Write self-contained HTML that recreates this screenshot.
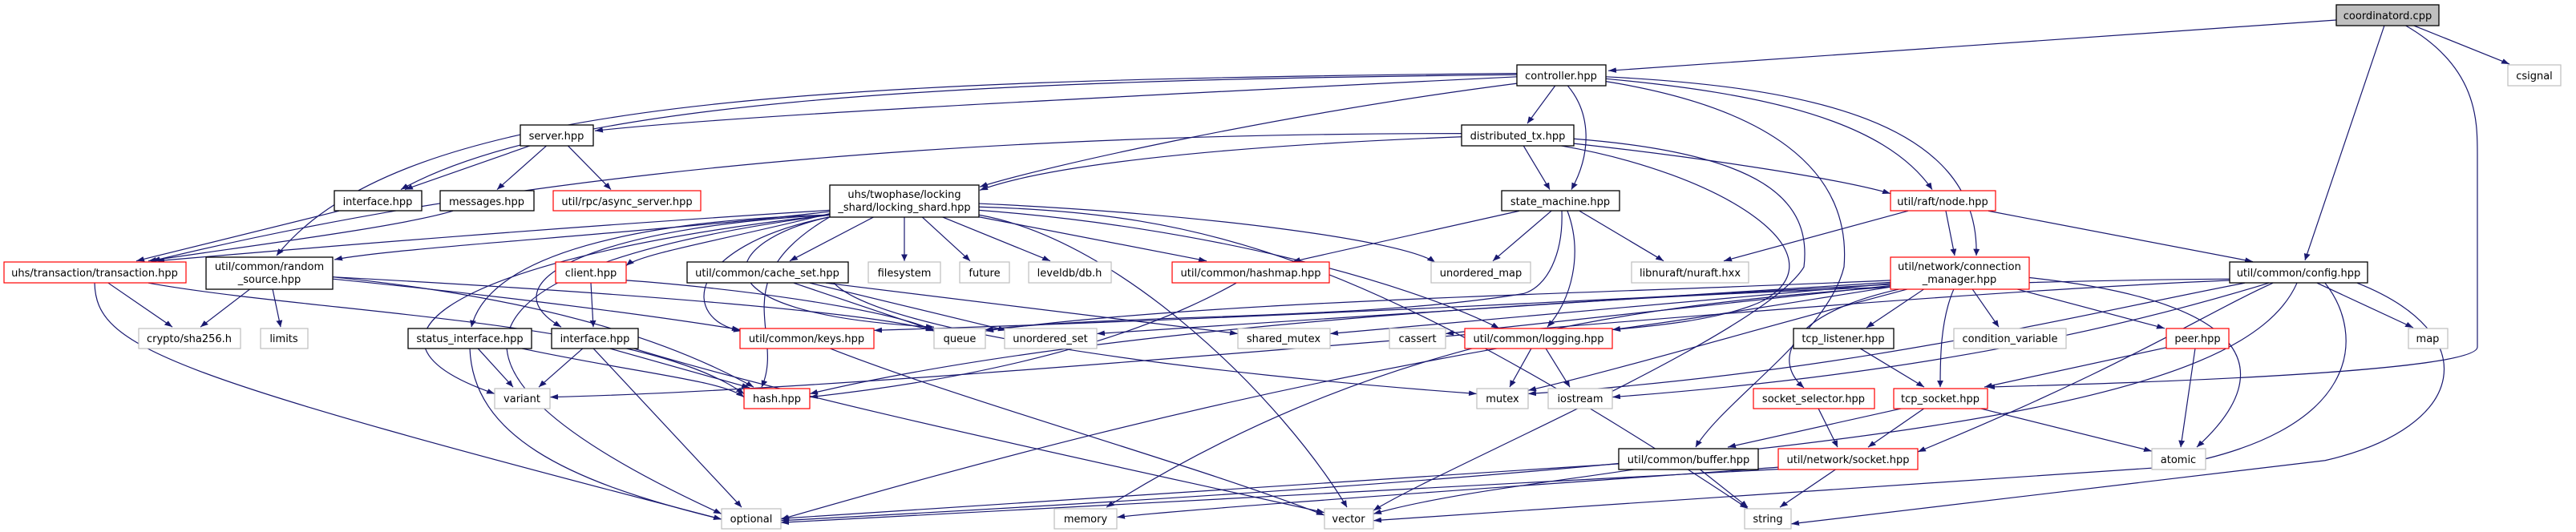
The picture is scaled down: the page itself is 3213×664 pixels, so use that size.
<!DOCTYPE html>
<html><head><meta charset="utf-8"><style>
html,body{margin:0;padding:0;background:#fff;overflow:hidden;}
svg{display:block;}
text{font-family:"DejaVu Sans","Liberation Sans",sans-serif;font-size:13px;fill:#000;text-anchor:middle;}
.e{fill:none;stroke:#191970;stroke-width:1.2;marker-end:url(#a);vector-effect:non-scaling-stroke;}
.b{fill:#fff;stroke:#000;stroke-width:1.3;}
.r{fill:#fff;stroke:#ff0000;stroke-width:1.2;}
.g{fill:#fff;stroke:#bfbfbf;stroke-width:1.2;}
</style></head><body>
<svg width="3213" height="664" viewBox="0 0 3213 664" xmlns="http://www.w3.org/2000/svg">
<defs><marker id="a" viewBox="0 0 10 8" refX="10" refY="4" markerWidth="10" markerHeight="8" markerUnits="userSpaceOnUse" orient="auto"><path d="M0,0 L10,4 L0,8 z" fill="#191970"/></marker></defs>
<g transform="scale(1,0.833)">
<path class="e" d="M2914,30 L2006,106"/>
<path class="e" d="M2974,38 L2875,390"/>
<path class="e" d="M3010,38 L3130,96"/>
<path class="e" d="M3000,38 C3090,100 3090,180 3090,230 L3090,520 C3090,560 2600,576 2478,580"/>
<path class="e" d="M1892,115 C1300,150 900,175 742,196"/>
<path class="e" d="M1892,112 C1200,120 700,150 500,284"/>
<path class="e" d="M1892,110 C1000,120 500,150 345,383"/>
<path class="e" d="M1892,125 C1600,170 1300,250 1222,280"/>
<path class="e" d="M1940,128 L1905,185"/>
<path class="e" d="M1955,128 C1985,170 1985,230 1960,284"/>
<path class="e" d="M2003,118 C2200,140 2350,180 2410,284"/>
<path class="e" d="M2003,115 C2250,130 2470,180 2465,383"/>
<path class="e" d="M2003,122 C2200,160 2310,250 2300,400 C2280,500 2150,600 2115,670"/>
<path class="e" d="M662,218 L505,284"/>
<path class="e" d="M682,218 L620,284"/>
<path class="e" d="M708,218 L762,284"/>
<path class="e" d="M423,316 L170,391"/>
<path class="e" d="M565,316 C500,340 300,370 185,391"/>
<path class="e" d="M1823,205 C1500,220 1300,250 1222,285"/>
<path class="e" d="M1823,200 C1000,200 500,300 190,391"/>
<path class="e" d="M1900,218 L1933,284"/>
<path class="e" d="M1963,215 C2150,240 2300,270 2358,290"/>
<path class="e" d="M1945,218 C2150,260 2300,380 2200,450 C2150,480 2050,490 2011,494"/>
<path class="e" d="M1963,208 C2200,230 2260,300 2250,400 C2200,500 1800,700 1713,765"/>
<path class="e" d="M1035,315 C700,340 400,370 195,391"/>
<path class="e" d="M1035,317 C800,350 500,370 417,389"/>
<path class="e" d="M1035,320 C900,360 800,380 781,398"/>
<path class="e" d="M1035,322 C800,330 610,380 588,490"/>
<path class="e" d="M1035,322 C750,340 600,420 700,490"/>
<path class="e" d="M1090,325 L985,391"/>
<path class="e" d="M1128,325 L1128,391"/>
<path class="e" d="M1150,325 L1210,391"/>
<path class="e" d="M1175,325 L1310,391"/>
<path class="e" d="M1221,325 L1505,391"/>
<path class="e" d="M1035,325 C850,370 850,480 925,496"/>
<path class="e" d="M1035,325 C900,360 850,470 1165,490"/>
<path class="e" d="M1035,325 C900,420 980,500 950,580"/>
<path class="e" d="M1035,322 C600,380 400,500 617,590"/>
<path class="e" d="M1035,322 C550,400 500,550 900,770"/>
<path class="e" d="M1221,322 C1400,360 1600,600 1680,760"/>
<path class="e" d="M1221,310 C1500,320 1700,380 2180,762"/>
<path class="e" d="M1221,315 C1500,340 1750,420 1870,492"/>
<path class="e" d="M1221,305 C1500,320 1750,360 1790,393"/>
<path class="e" d="M1895,316 L1612,392"/>
<path class="e" d="M1935,316 L1862,391"/>
<path class="e" d="M1970,316 L2075,391"/>
<path class="e" d="M1955,316 C1975,380 1960,450 1930,490"/>
<path class="e" d="M1948,316 C1950,380 1930,430 1900,440 C1700,480 1400,470 1229,494"/>
<path class="e" d="M2380,316 L2150,391"/>
<path class="e" d="M2427,316 L2438,383"/>
<path class="e" d="M2480,316 L2810,392"/>
<path class="e" d="M2358,420 C2000,440 1500,450 1229,496"/>
<path class="e" d="M2358,423 C2000,450 1600,480 1368,500"/>
<path class="e" d="M2358,425 L1659,500"/>
<path class="e" d="M2358,428 L1803,500"/>
<path class="e" d="M2358,430 C2200,460 2100,480 2011,494"/>
<path class="e" d="M2400,433 L2328,491"/>
<path class="e" d="M2370,433 C2230,470 2210,540 2250,581"/>
<path class="e" d="M2437,433 C2420,480 2420,540 2420,580"/>
<path class="e" d="M2460,433 L2493,490"/>
<path class="e" d="M2515,433 L2700,492"/>
<path class="e" d="M2531,416 C2800,450 2850,550 2740,670"/>
<path class="e" d="M2380,433 C2200,490 2000,560 1906,585"/>
<path class="e" d="M2358,430 C2000,460 1700,520 1380,760"/>
<path class="e" d="M2358,426 C2000,450 1500,480 1090,495"/>
<path class="e" d="M2890,424 L3010,491"/>
<path class="e" d="M2781,418 C2500,420 1500,450 1010,590"/>
<path class="e" d="M2781,420 C2200,450 1200,580 686,595"/>
<path class="e" d="M2835,424 C2750,470 2650,550 2392,677"/>
<path class="e" d="M2865,424 C2800,600 2400,690 974,780"/>
<path class="e" d="M2900,424 C2950,500 2950,650 2700,700 L1713,780"/>
<path class="e" d="M2940,424 C3100,500 3080,640 2900,690 L2234,785"/>
<path class="e" d="M2800,424 C2600,470 2300,560 1906,590"/>
<path class="e" d="M2830,424 C2650,490 2400,560 2011,595"/>
<path class="e" d="M135,424 L215,490"/>
<path class="e" d="M185,424 C400,470 800,480 928,590"/>
<path class="e" d="M118,424 C120,520 200,560 900,778"/>
<path class="e" d="M312,433 L250,490"/>
<path class="e" d="M340,433 L350,490"/>
<path class="e" d="M415,415 C700,450 850,520 940,580"/>
<path class="e" d="M415,418 C600,440 800,470 923,494"/>
<path class="e" d="M415,415 C800,440 1100,470 1165,496"/>
<path class="e" d="M737,424 L740,490"/>
<path class="e" d="M781,420 C900,430 1100,460 1165,495"/>
<path class="e" d="M596,522 L640,580"/>
<path class="e" d="M586,522 C590,650 700,720 900,778"/>
<path class="e" d="M650,522 C800,560 900,570 928,595"/>
<path class="e" d="M727,522 L672,580"/>
<path class="e" d="M760,522 L935,581"/>
<path class="e" d="M740,522 L925,760"/>
<path class="e" d="M790,522 C1000,600 1400,700 1652,768"/>
<path class="e" d="M990,424 L1165,495"/>
<path class="e" d="M1010,424 L1255,495"/>
<path class="e" d="M1030,424 L1544,500"/>
<path class="e" d="M1040,424 C1100,500 1500,560 1842,590"/>
<path class="e" d="M1542,424 C1400,520 1200,570 1010,595"/>
<path class="e" d="M1035,522 C1200,600 1500,700 1652,772"/>
<path class="e" d="M1910,522 L1883,580"/>
<path class="e" d="M1928,522 L1958,580"/>
<path class="e" d="M1868,522 C1500,600 1200,700 974,778"/>
<path class="e" d="M2320,522 L2400,580"/>
<path class="e" d="M2268,612 L2292,670"/>
<path class="e" d="M2372,612 L2155,670"/>
<path class="e" d="M2400,612 L2330,670"/>
<path class="e" d="M2470,612 L2684,676"/>
<path class="e" d="M2705,520 L2475,580"/>
<path class="e" d="M2738,522 L2720,670"/>
<path class="e" d="M2040,703 C1950,720 1800,740 1713,770"/>
<path class="e" d="M2120,703 L2180,760"/>
<path class="e" d="M2019,695 L974,777"/>
<path class="e" d="M2290,703 L2220,760"/>
<path class="e" d="M2218,703 L974,783"/>
<path class="e" d="M2218,700 C2000,720 1500,760 1393,775"/>
</g>
<g>
<rect x="2914" y="6" width="128" height="26" fill="#bfbfbf" stroke="#000" stroke-width="1.3"/><text x="2978" y="24">coordinatord.cpp</text>
<rect class="g" x="3128" y="81" width="66" height="26"/><text x="3161" y="99">csignal</text>
<rect class="b" x="1892" y="81" width="111" height="26"/><text x="1947" y="99">controller.hpp</text>
<rect class="b" x="649" y="156" width="91" height="26"/><text x="694" y="174">server.hpp</text>
<rect class="b" x="1823" y="156" width="140" height="26"/><text x="1893" y="174">distributed_tx.hpp</text>
<rect class="b" x="417" y="238" width="109" height="25"/><text x="471" y="256">interface.hpp</text>
<rect class="b" x="549" y="238" width="117" height="25"/><text x="607" y="256">messages.hpp</text>
<rect class="r" x="690" y="238" width="184" height="25"/><text x="782" y="256">util/rpc/async_server.hpp</text>
<rect class="b" x="1035" y="231" width="186" height="40"/><text x="1128" y="247">uhs/twophase/locking</text><text x="1128" y="263">_shard/locking_shard.hpp</text>
<rect class="b" x="1873" y="238" width="147" height="25"/><text x="1946" y="256">state_machine.hpp</text>
<rect class="r" x="2358" y="238" width="131" height="25"/><text x="2423" y="256">util/raft/node.hpp</text>
<rect class="r" x="5" y="327" width="227" height="26"/><text x="118" y="345">uhs/transaction/transaction.hpp</text>
<rect class="b" x="257" y="321" width="158" height="40"/><text x="336" y="337">util/common/random</text><text x="336" y="353">_source.hpp</text>
<rect class="r" x="693" y="327" width="88" height="26"/><text x="737" y="345">client.hpp</text>
<rect class="b" x="857" y="327" width="201" height="26"/><text x="957" y="345">util/common/cache_set.hpp</text>
<rect class="g" x="1083" y="327" width="90" height="26"/><text x="1128" y="345">filesystem</text>
<rect class="g" x="1197" y="327" width="62" height="26"/><text x="1228" y="345">future</text>
<rect class="g" x="1283" y="327" width="103" height="26"/><text x="1334" y="345">leveldb/db.h</text>
<rect class="r" x="1462" y="327" width="196" height="26"/><text x="1560" y="345">util/common/hashmap.hpp</text>
<rect class="g" x="1785" y="327" width="124" height="26"/><text x="1847" y="345">unordered_map</text>
<rect class="g" x="2035" y="327" width="146" height="26"/><text x="2108" y="345">libnuraft/nuraft.hxx</text>
<rect class="r" x="2358" y="321" width="173" height="40"/><text x="2444" y="337">util/network/connection</text><text x="2444" y="353">_manager.hpp</text>
<rect class="b" x="2781" y="327" width="172" height="26"/><text x="2867" y="345">util/common/config.hpp</text>
<rect class="g" x="173" y="410" width="127" height="25"/><text x="236" y="427">crypto/sha256.h</text>
<rect class="g" x="325" y="410" width="59" height="25"/><text x="354" y="427">limits</text>
<rect class="b" x="509" y="410" width="154" height="25"/><text x="586" y="427">status_interface.hpp</text>
<rect class="b" x="688" y="410" width="108" height="25"/><text x="742" y="427">interface.hpp</text>
<rect class="r" x="923" y="410" width="167" height="25"/><text x="1006" y="427">util/common/keys.hpp</text>
<rect class="g" x="1165" y="410" width="64" height="25"/><text x="1197" y="427">queue</text>
<rect class="g" x="1253" y="410" width="115" height="25"/><text x="1310" y="427">unordered_set</text>
<rect class="g" x="1544" y="410" width="115" height="25"/><text x="1601" y="427">shared_mutex</text>
<rect class="g" x="1733" y="410" width="70" height="25"/><text x="1768" y="427">cassert</text>
<rect class="r" x="1827" y="410" width="184" height="25"/><text x="1919" y="427">util/common/logging.hpp</text>
<rect class="b" x="2237" y="410" width="125" height="25"/><text x="2299" y="427">tcp_listener.hpp</text>
<rect class="g" x="2437" y="410" width="140" height="25"/><text x="2507" y="427">condition_variable</text>
<rect class="r" x="2702" y="410" width="78" height="25"/><text x="2741" y="427">peer.hpp</text>
<rect class="g" x="3004" y="410" width="49" height="25"/><text x="3028" y="427">map</text>
<rect class="g" x="617" y="485" width="69" height="25"/><text x="651" y="502">variant</text>
<rect class="r" x="928" y="485" width="82" height="25"/><text x="969" y="502">hash.hpp</text>
<rect class="g" x="1842" y="485" width="64" height="25"/><text x="1874" y="502">mutex</text>
<rect class="g" x="1931" y="485" width="80" height="25"/><text x="1971" y="502">iostream</text>
<rect class="r" x="2187" y="485" width="151" height="25"/><text x="2262" y="502">socket_selector.hpp</text>
<rect class="r" x="2362" y="485" width="117" height="25"/><text x="2420" y="502">tcp_socket.hpp</text>
<rect class="b" x="2019" y="560" width="174" height="26"/><text x="2106" y="578">util/common/buffer.hpp</text>
<rect class="r" x="2218" y="560" width="174" height="26"/><text x="2305" y="578">util/network/socket.hpp</text>
<rect class="g" x="2684" y="560" width="67" height="26"/><text x="2717" y="578">atomic</text>
<rect class="g" x="900" y="635" width="74" height="25"/><text x="937" y="652">optional</text>
<rect class="g" x="1315" y="635" width="78" height="25"/><text x="1354" y="652">memory</text>
<rect class="g" x="1652" y="635" width="61" height="25"/><text x="1682" y="652">vector</text>
<rect class="g" x="2176" y="635" width="58" height="25"/><text x="2205" y="652">string</text>
</g>
</svg>
</body></html>
